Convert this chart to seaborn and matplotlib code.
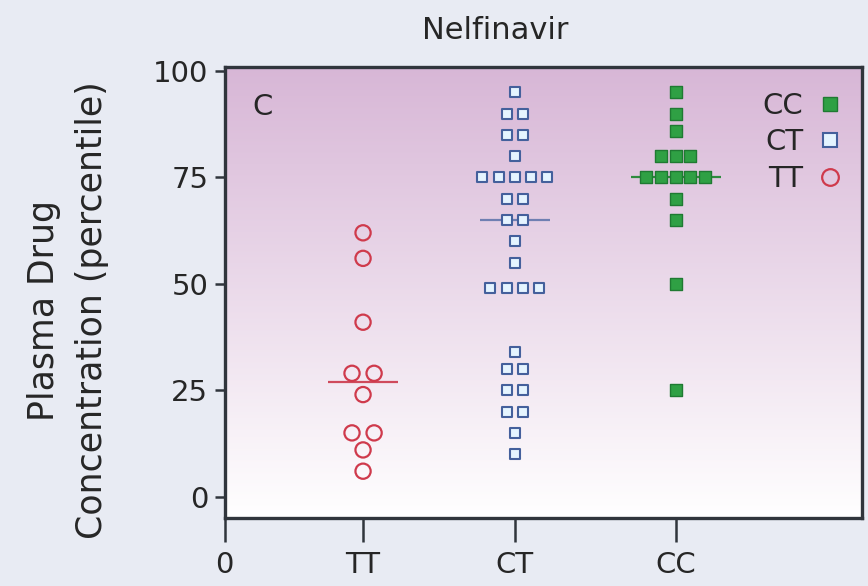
import numpy as np
import pandas as pd
import matplotlib
matplotlib.use("Agg")
import matplotlib.pyplot as plt
from matplotlib.lines import Line2D
import seaborn as sns

# Percentile of plasma nelfinavir concentration by genotype
genotypes = ["TT", "CT", "CC"]
tt_values = [62, 56, 41, 29, 29, 24, 15, 15, 11, 6]
ct_values = [95, 90, 90, 85, 85, 80, 75, 75, 75, 75, 75, 70, 70, 65, 65,
             60, 55, 49, 49, 49, 49, 34, 30, 30, 25, 25, 20, 20, 15, 10]
cc_values = [95, 90, 86, 80, 80, 80, 75, 75, 75, 75, 75, 70, 65, 50, 25]
group_medians = [27, 65, 75]
x_tick_labels = ["0", "TT", "CT", "CC"]
y_ticks = [0, 25, 50, 75, 100]

sns.set_theme(style="white")
plt.rcParams["font.family"] = ["DejaVu Sans"]

# layout / style
centers = [0.92, 1.93, 3.0]
spacing = {"TT": 0.147, "CT": 0.108, "CC": 0.098}
median_half = {"TT": 0.23, "CT": 0.235, "CC": 0.30}
styles = {
    "TT": dict(marker="o", s=120, facecolor="none", edgecolor="#cf3a4c", linewidth=1.6),
    "CT": dict(marker="s", s=55, facecolor="#e4f4ff", edgecolor="#44609c", linewidth=1.5),
    "CC": dict(marker="s", s=66, facecolor="#2fa044", edgecolor="#1f7a32", linewidth=1.0),
}
legend_marker_size = {"CC": 10, "CT": 10, "TT": 12}
line_colors = {"TT": "#cf4a5c", "CT": "#6f7fb2", "CC": "#2e8b3e"}
spine_col = "#30353c"
text_col = "#262626"

rows = []
for g, vals, c in zip(genotypes, [tt_values, ct_values, cc_values], centers):
    s = pd.Series(vals)
    for v, n in s.value_counts(sort=False).items():
        offs = (np.arange(n) - (n - 1) / 2) * spacing[g]
        for o in offs:
            rows.append({"genotype": g, "x": c + o, "value": v})
df = pd.DataFrame(rows)

fig = plt.figure(figsize=(8.68, 5.86), dpi=100)
fig.patch.set_facecolor("#e8ebf3")
ax = fig.add_axes([0.259, 0.116, 0.734, 0.770])

# vertical mauve-to-white gradient behind the data
top = np.array([0.845, 0.715, 0.84])
bot = np.array([1.0, 1.0, 1.0])
t = np.linspace(0, 1, 256)[:, None]
grad = (top * (1 - t) + bot * t)[:, None, :]
ax.imshow(grad, extent=[0, 1, 0, 1], transform=ax.transAxes, aspect="auto",
          zorder=0, interpolation="bilinear")

for g, c, m in zip(genotypes, centers, group_medians):
    ax.hlines(m, c - median_half[g], c + median_half[g], color=line_colors[g],
              linewidth=1.6, zorder=2)
    sns.scatterplot(data=df[df.genotype == g], x="x", y="value", ax=ax,
                    zorder=3, legend=False, **styles[g])

ax.set_xlim(0, 4.24)
ax.set_ylim(-5, 101)
ax.set_xticks([0] + centers)
ax.set_xticklabels(x_tick_labels)
ax.set_yticks(y_ticks)
ax.set_xlabel("")
ax.set_ylabel("Plasma Drug\nConcentration (percentile)", fontsize=25, color=text_col,
              linespacing=1.5)
ax.yaxis.label.set_va("center")
ax.yaxis.label.set_ha("center")
ax.yaxis.set_label_coords(-0.246, 0.46)
ax.text(0.424, 1.08, "Nelfinavir", transform=ax.transAxes, fontsize=22,
        color=text_col, ha="center", va="center")

for sp in ax.spines.values():
    sp.set_visible(True)
    sp.set_color(spine_col)
    sp.set_linewidth(2.4)
ax.tick_params(axis="y", direction="out", length=7, width=1.8, color=spine_col,
               labelsize=21, labelcolor=text_col, pad=5, left=True)
ax.tick_params(axis="x", direction="out", length=17, width=1.8, color=spine_col,
               labelsize=21, labelcolor=text_col, pad=7, bottom=True)

ax.text(0.06, 0.91, "C", transform=ax.transAxes, fontsize=21, color=text_col,
        va="center", ha="center")

handles = []
for g in ["CC", "CT", "TT"]:
    st = styles[g]
    handles.append(Line2D([], [], linestyle="none", marker=st["marker"],
                          markersize=legend_marker_size[g],
                          markerfacecolor=st["facecolor"],
                          markeredgecolor=st["edgecolor"],
                          markeredgewidth=st["linewidth"]))
ax.legend(handles, ["CC", "CT", "TT"], loc="upper right", bbox_to_anchor=(1.0, 0.99),
          markerfirst=False, frameon=False, fontsize=21, handlelength=0.8,
          handletextpad=0.5, labelspacing=0.3, borderaxespad=0.3)

fig.savefig("out.png", dpi=100, facecolor=fig.get_facecolor())
